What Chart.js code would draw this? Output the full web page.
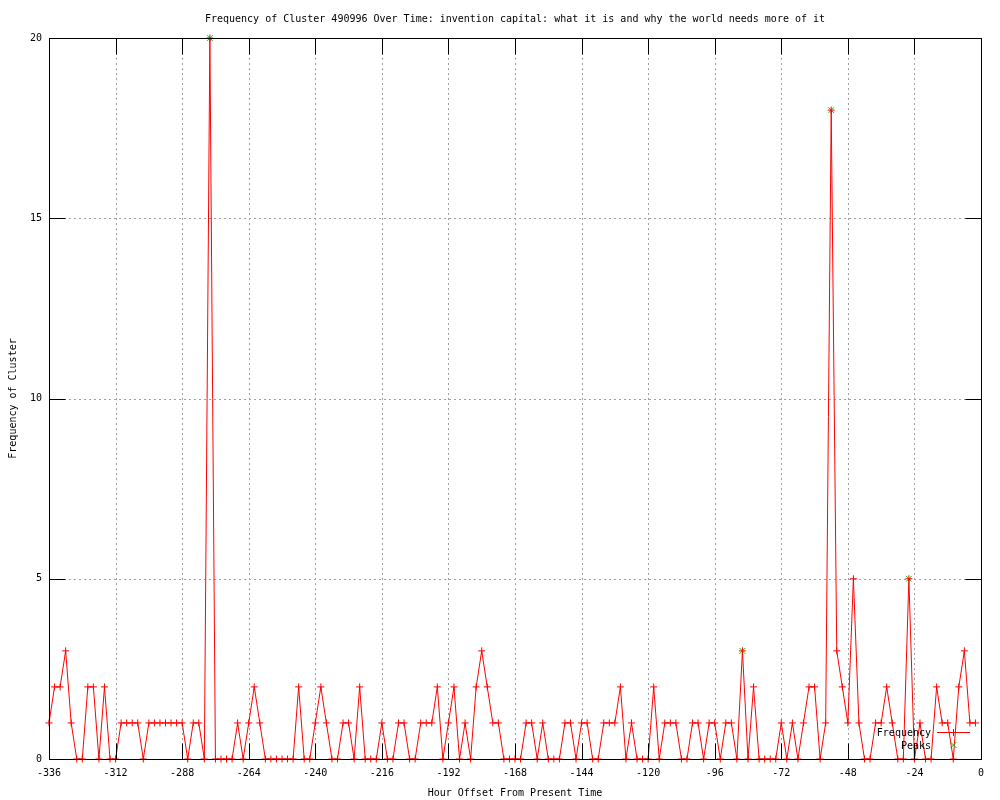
<!DOCTYPE html>
<html>
<head>
<meta charset="utf-8">
<script src="https://cdn.jsdelivr.net/npm/chart.js@4.4.1/dist/chart.umd.min.js"></script>
<style>
  html, body { margin: 0; padding: 0; background: #fff; }
  #chart { display: block; }
</style>
</head>
<body>
<canvas id="chart" width="1000" height="800"></canvas>
<script>
const chartTitle = "Frequency of Cluster 490996 Over Time: invention capital: what it is and why the world needs more of it";

// hour offsets, one sample every 2 hours
const hours = [
  -336, -334, -332, -330, -328, -326, -324, -322, -320, -318,
  -316, -314, -312, -310, -308, -306, -304, -302, -300, -298,
  -296, -294, -292, -290, -288, -286, -284, -282, -280, -278,
  -276, -274, -272, -270, -268, -266, -264, -262, -260, -258,
  -256, -254, -252, -250, -248, -246, -244, -242, -240, -238,
  -236, -234, -232, -230, -228, -226, -224, -222, -220, -218,
  -216, -214, -212, -210, -208, -206, -204, -202, -200, -198,
  -196, -194, -192, -190, -188, -186, -184, -182, -180, -178,
  -176, -174, -172, -170, -168, -166, -164, -162, -160, -158,
  -156, -154, -152, -150, -148, -146, -144, -142, -140, -138,
  -136, -134, -132, -130, -128, -126, -124, -122, -120, -118,
  -116, -114, -112, -110, -108, -106, -104, -102, -100, -98,
  -96, -94, -92, -90, -88, -86, -84, -82, -80, -78,
  -76, -74, -72, -70, -68, -66, -64, -62, -60, -58,
  -56, -54, -52, -50, -48, -46, -44, -42, -40, -38,
  -36, -34, -32, -30, -28, -26, -24, -22, -20, -18,
  -16, -14, -12, -10, -8, -6, -4, -2
];

const frequency = [
  1, 2, 2, 3, 1, 0, 0, 2, 2, 0,
  2, 0, 0, 1, 1, 1, 1, 0, 1, 1,
  1, 1, 1, 1, 1, 0, 1, 1, 0, 20,
  0, 0, 0, 0, 1, 0, 1, 2, 1, 0,
  0, 0, 0, 0, 0, 2, 0, 0, 1, 2,
  1, 0, 0, 1, 1, 0, 2, 0, 0, 0,
  1, 0, 0, 1, 1, 0, 0, 1, 1, 1,
  2, 0, 1, 2, 0, 1, 0, 2, 3, 2,
  1, 1, 0, 0, 0, 0, 1, 1, 0, 1,
  0, 0, 0, 1, 1, 0, 1, 1, 0, 0,
  1, 1, 1, 2, 0, 1, 0, 0, 0, 2,
  0, 1, 1, 1, 0, 0, 1, 1, 0, 1,
  1, 0, 1, 1, 0, 3, 0, 2, 0, 0,
  0, 0, 1, 0, 1, 0, 1, 2, 2, 0,
  1, 18, 3, 2, 1, 5, 1, 0, 0, 1,
  1, 2, 1, 0, 0, 5, 0, 1, 0, 0,
  2, 1, 1, 0, 2, 3, 1, 1
];

const peakHours = [-278, -86, -54, -26];
const peakValues = [20, 3, 18, 5];

const FONT = "DejaVu Sans Mono";
const RED = "#ff0000";
const GREEN = "#00c000";

// gnuplot look: dashed grid, black box, inward ticks, key, title
const gnuplotFrame = {
  id: "gnuplotFrame",
  beforeDatasetsDraw(chart) {
    const { ctx, chartArea: a, scales: { x, y } } = chart;
    ctx.save();
    ctx.strokeStyle = "#a0a0a0";
    ctx.lineWidth = 1;
    ctx.setLineDash([2, 3]);
    x.ticks.forEach((t) => {
      const px = Math.round(x.getPixelForValue(t.value)) + 0.5;
      if (px <= a.left + 1 || px >= a.right - 1) return;
      ctx.beginPath();
      ctx.moveTo(px, a.top);
      ctx.lineTo(px, a.bottom);
      ctx.stroke();
    });
    y.ticks.forEach((t) => {
      const py = Math.round(y.getPixelForValue(t.value)) + 0.5;
      if (py <= a.top + 1 || py >= a.bottom - 1) return;
      ctx.beginPath();
      ctx.moveTo(a.left, py);
      ctx.lineTo(a.right, py);
      ctx.stroke();
    });
    ctx.restore();
  },
  afterDatasetsDraw(chart) {
    const { ctx, chartArea: a, scales: { x, y } } = chart;
    const L = Math.round(a.left) + 0.5;
    const R = Math.round(a.right) + 0.5;
    const T = Math.round(a.top) + 0.5;
    const B = Math.round(a.bottom) + 0.5;
    const tic = 16;
    ctx.save();
    ctx.strokeStyle = "#000";
    ctx.lineWidth = 1;
    ctx.setLineDash([]);
    ctx.strokeRect(L, T, R - L, B - T);
    ctx.beginPath();
    x.ticks.forEach((t) => {
      const px = Math.round(x.getPixelForValue(t.value)) + 0.5;
      ctx.moveTo(px, B);
      ctx.lineTo(px, B - tic);
      ctx.moveTo(px, T);
      ctx.lineTo(px, T + tic);
    });
    y.ticks.forEach((t) => {
      const py = Math.round(y.getPixelForValue(t.value)) + 0.5;
      ctx.moveTo(L, py);
      ctx.lineTo(L + tic, py);
      ctx.moveTo(R, py);
      ctx.lineTo(R - tic, py);
    });
    ctx.stroke();

    // title
    ctx.fillStyle = "#000";
    ctx.font = "10px '" + FONT + "'";
    ctx.textAlign = "center";
    ctx.textBaseline = "middle";
    ctx.fillText(chartTitle, (a.left + a.right) / 2, 19);

    // key
    ctx.textAlign = "right";
    ctx.fillText("Frequency", 931, 733);
    ctx.fillText("Peaks", 931, 746);
    ctx.strokeStyle = RED;
    ctx.beginPath();
    ctx.moveTo(937, 732.5);
    ctx.lineTo(970, 732.5);
    ctx.moveTo(953.5, 729);
    ctx.lineTo(953.5, 736);
    ctx.stroke();
    ctx.strokeStyle = GREEN;
    ctx.beginPath();
    ctx.moveTo(950.5, 742);
    ctx.lineTo(956.5, 748);
    ctx.moveTo(956.5, 742);
    ctx.lineTo(950.5, 748);
    ctx.stroke();
    ctx.restore();
  }
};

const ctx = document.getElementById("chart").getContext("2d");
new Chart(ctx, {
  type: "line",
  data: {
    datasets: [
      {
        label: "Frequency",
        data: hours.map((h, i) => ({ x: h, y: frequency[i] })),
        borderColor: RED,
        backgroundColor: RED,
        borderWidth: 1,
        pointStyle: "cross",
        pointRadius: 3.5,
        pointBorderColor: RED,
        pointBorderWidth: 1,
        tension: 0,
        fill: false,
        clip: false,
      },
      {
        label: "Peaks",
        data: peakHours.map((h, i) => ({ x: h, y: peakValues[i] })),
        showLine: false,
        borderColor: GREEN,
        backgroundColor: GREEN,
        pointStyle: "crossRot",
        pointRadius: 4,
        pointBorderColor: GREEN,
        pointBorderWidth: 1,
        clip: false,
      },
    ],
  },
  options: {
    responsive: false,
    animation: false,
    events: [],
    layout: { padding: { top: 38, right: 19, left: 0, bottom: 0 } },
    plugins: {
      legend: { display: false },
      title: { display: false },
      tooltip: { enabled: false },
    },
    scales: {
      x: {
        type: "linear",
        min: -336,
        max: 0,
        grid: { display: false, drawTicks: false },
        border: { display: false },
        ticks: {
          stepSize: 24,
          autoSkip: false,
          maxRotation: 0,
          padding: 8,
          color: "#000",
          font: { family: FONT, size: 10 },
          callback: (v) => String(v),
        },
        title: {
          display: true,
          text: "Hour Offset From Present Time",
          color: "#000",
          font: { family: FONT, size: 10 },
          padding: { top: 0, bottom: 1 },
        },
        afterFit: (scale) => { scale.height = 41; },
      },
      y: {
        min: 0,
        max: 20,
        grid: { display: false, drawTicks: false },
        border: { display: false },
        ticks: {
          stepSize: 5,
          padding: 7,
          color: "#000",
          font: { family: FONT, size: 10 },
        },
        title: {
          display: true,
          text: "Frequency of Cluster",
          color: "#000",
          font: { family: FONT, size: 10 },
          padding: { top: 7, bottom: 0 },
        },
        afterFit: (scale) => { scale.width = 49; },
      },
    },
  },
  plugins: [gnuplotFrame],
});
</script>
</body>
</html>
